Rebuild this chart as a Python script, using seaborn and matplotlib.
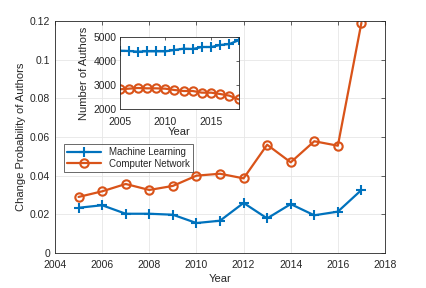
import matplotlib
matplotlib.use("Agg")
import matplotlib.pyplot as plt
import seaborn as sns
import pandas as pd

years = [2005, 2006, 2007, 2008, 2009, 2010, 2011, 2012, 2013, 2014, 2015, 2016, 2017]
ml_prob = [0.0234, 0.0247, 0.0203, 0.0203, 0.0198, 0.0155, 0.0167, 0.0259, 0.0179, 0.0253, 0.0195, 0.0214, 0.0326]
cn_prob = [0.0290, 0.0319, 0.0357, 0.0326, 0.0347, 0.0400, 0.0410, 0.0386, 0.0560, 0.0469, 0.0578, 0.0555, 0.1191]

inset_years = [2005, 2006, 2007, 2008, 2009, 2010, 2011, 2012, 2013, 2014, 2015, 2016, 2017, 2018]
ml_authors = [4431, 4417, 4390, 4403, 4403, 4403, 4458, 4514, 4500, 4583, 4583, 4667, 4708, 4861]
cn_authors = [2819, 2847, 2875, 2861, 2861, 2847, 2792, 2750, 2750, 2681, 2681, 2625, 2556, 2403]

series_names = ["Machine Learning", "Computer Network"]
colors = ["#0072BD", "#D95319"]

sns.set_style("white")
plt.rcParams['font.family'] = ['Liberation Sans', 'DejaVu Sans']
plt.rcParams['font.size'] = 7.5

fig = plt.figure(figsize=(4.26, 2.88), dpi=100)
ax = fig.add_axes([55/426, 1-253/288, 330/426, 232/288])

ml_style = dict(color=colors[0], marker="+", markersize=7, markeredgewidth=1.5,
                markeredgecolor=colors[0], linewidth=1.6)
cn_style = dict(color=colors[1], marker="o", markersize=6, markerfacecolor="none",
                markeredgecolor=colors[1], markeredgewidth=1.5, linewidth=1.6)

main_df = pd.DataFrame({"Year": years * 2,
                        "val": ml_prob + cn_prob,
                        "Series": [series_names[0]] * len(years) + [series_names[1]] * len(years)})

sns.lineplot(data=main_df[main_df.Series == series_names[0]], x="Year", y="val", ax=ax,
             label=series_names[0], **ml_style)
sns.lineplot(data=main_df[main_df.Series == series_names[1]], x="Year", y="val", ax=ax,
             label=series_names[1], **cn_style)
ax.set_xlim(2004, 2018)
ax.set_ylim(0, 0.12)
ax.set_xticks(range(2004, 2019, 2))
ax.set_yticks([0, 0.02, 0.04, 0.06, 0.08, 0.1, 0.12])
ax.set_yticklabels(["0", "0.02", "0.04", "0.06", "0.08", "0.1", "0.12"])
ax.grid(True, color="#e6e6e6", linewidth=0.6)
ax.set_axisbelow(True)
ax.tick_params(direction="in", length=3, width=0.5, colors="#262626", labelsize=7.5,
               top=True, right=True)
ax.tick_params(axis="x", pad=5)
for s in ax.spines.values():
    s.set_linewidth(0.6)
    s.set_color("#262626")
ax.set_xlabel("Year", fontsize=8, color="#262626", labelpad=3)
ax.set_ylabel("Change Probability of Authors", fontsize=8, color="#262626", labelpad=3)
leg = ax.legend(loc="upper left", bbox_to_anchor=(9/330, 1-(143-20)/232), fontsize=7,
                frameon=True, fancybox=False, edgecolor="#262626", borderpad=0.3,
                handlelength=3.5, labelspacing=0.2, borderaxespad=0)
leg.get_frame().set_linewidth(0.6)

ins = fig.add_axes([119.5/426, 1-109/288, 119/426, 72/288])
sns.lineplot(x=inset_years, y=ml_authors, ax=ins, **ml_style)
sns.lineplot(x=inset_years, y=cn_authors, ax=ins, **cn_style)
ins.set_xlim(2005, 2018)
ins.set_ylim(2000, 5000)
ins.set_xticks([2005, 2010, 2015])
ins.set_yticks([2000, 3000, 4000, 5000])
ins.tick_params(direction="in", length=2.5, width=0.5, colors="#262626", labelsize=7.5,
                top=True, right=True, pad=2)
ins.tick_params(axis="x", pad=6)
for s in ins.spines.values():
    s.set_linewidth(0.6)
    s.set_color("#262626")
ins.set_xlabel("Year", fontsize=8, color="#262626", labelpad=0)
ins.set_ylabel("Number of Authors", fontsize=8, color="#262626", labelpad=3)

fig.savefig("out.png", dpi=100)
